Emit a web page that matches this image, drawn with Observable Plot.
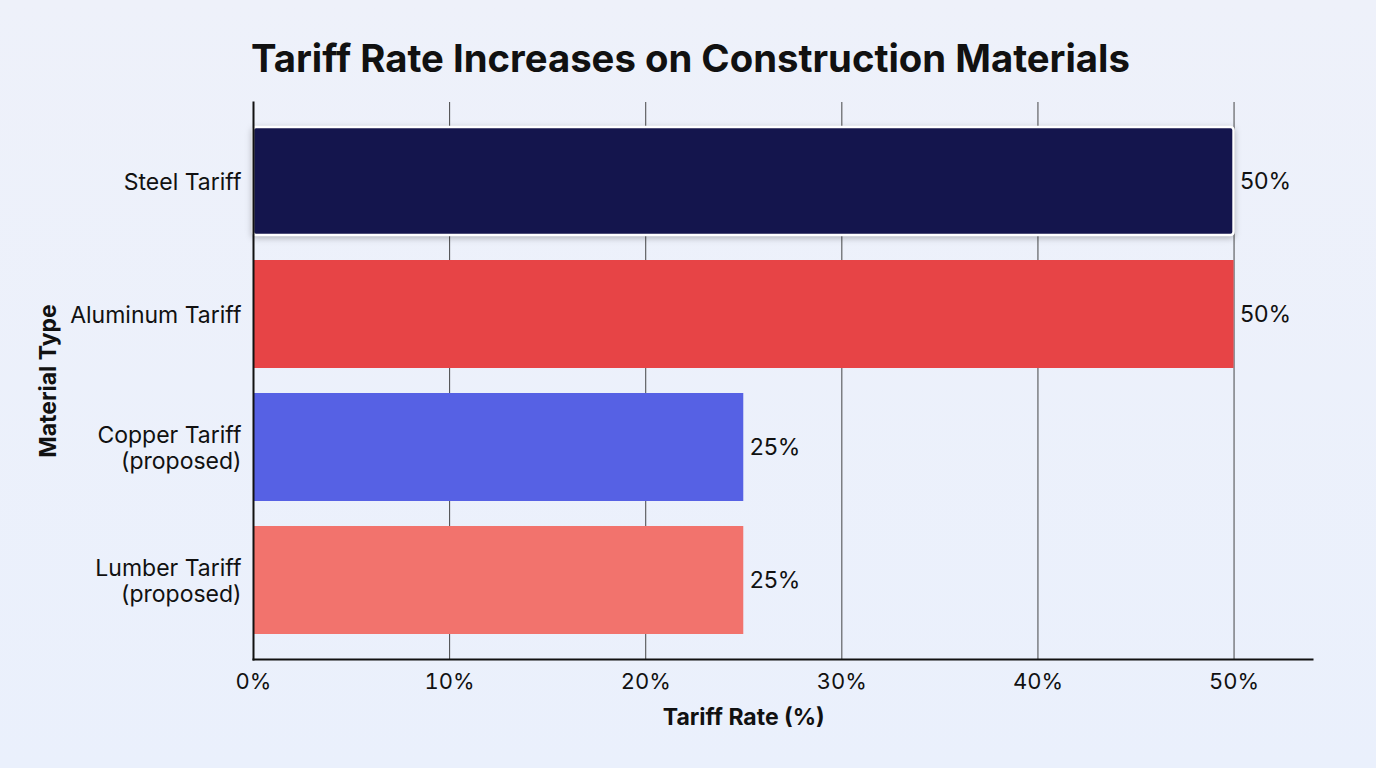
<!DOCTYPE html>
<html>
<head>
<meta charset="utf-8">
<script src="https://cdn.jsdelivr.net/npm/d3@7"></script>
<script src="https://cdn.jsdelivr.net/npm/@observablehq/plot@0.6"></script>
<style>
  html, body { margin: 0; padding: 0; }
  body {
    width: 1376px; height: 768px; overflow: hidden;
    background: linear-gradient(180deg, #eef1fa 0%, #eaf0fc 100%);
    font-family: Inter, "Liberation Sans", sans-serif;
  }
  #title {
    height: 100px; box-sizing: border-box; padding-top: 36px;
    padding-left: 251px; font-weight: 700; font-size: 38.3px; color: #111;
    line-height: 44px;
  }
  #chart svg { display: block; overflow: visible; }
</style>
</head>
<body>
<div id="title">Tariff Rate Increases on Construction Materials</div>
<div id="chart"></div>
<script>
// Tariff rates (%) on construction materials
const materials = ["Steel Tariff", "Aluminum Tariff", "Copper Tariff\n(proposed)", "Lumber Tariff\n(proposed)"];
const rates = [50, 50, 25, 25];
const colors = ["#14154d", "#e74446", "#5661e4", "#f2736d"];
const xTicks = [0, 10, 20, 30, 40, 50];

const rows = materials.map((m, i) => ({material: m, rate: rates[i], color: colors[i]}));

const chart = Plot.plot({
  width: 1376,
  height: 668,
  marginTop: 2,
  marginLeft: 253,
  marginRight: 64,
  marginBottom: 109,
  style: {background: "transparent", fontFamily: "Inter, 'Liberation Sans', sans-serif", color: "#111"},
  x: {domain: [0, 54], ticks: xTicks, tickFormat: d => d + "%", label: null},
  y: {domain: materials, paddingInner: 0.19, paddingOuter: 0.18, label: null},
  marks: [
    Plot.gridX(xTicks, {stroke: "#333", strokeOpacity: 0.9, strokeWidth: 1}),
    Plot.barX(rows.slice(1), {x: "rate", y: "material", fill: "color"}),
    Plot.barX(rows.slice(0, 1), {
      x: "rate", y: "material", fill: "color",
      stroke: "white", strokeWidth: 2.5, rx: 3,
      imageFilter: "drop-shadow(0px 2px 3px rgba(0,0,0,0.25))"
    }),
    Plot.text(rows, {
      x: "rate", y: "material", text: d => d.rate + "%",
      textAnchor: "start", dx: 6, fontSize: 23, fill: "#111"
    }),
    Plot.axisX({
      ticks: xTicks, tickFormat: d => d + "%", tickSize: 0, tickPadding: 14,
      fontSize: 22, label: null
    }),
    Plot.axisY({tickSize: 0, tickPadding: 12, fontSize: 23, label: null, lineHeight: 1.15}),
    Plot.frame({anchor: "left", stroke: "#111", strokeWidth: 2}),
    Plot.frame({anchor: "bottom", stroke: "#111", strokeWidth: 2}),
    Plot.text(["Tariff Rate (%)"], {
      x: 25, frameAnchor: "bottom", dy: 65, fontSize: 23, fontWeight: 700, fill: "#111"
    }),
    Plot.text(["Material Type"], {
      frameAnchor: "left", textAnchor: "middle", dx: -205, rotate: -90,
      fontSize: 23, fontWeight: 700, fill: "#111"
    })
  ]
});

document.getElementById("chart").appendChild(chart);
</script>
</body>
</html>
